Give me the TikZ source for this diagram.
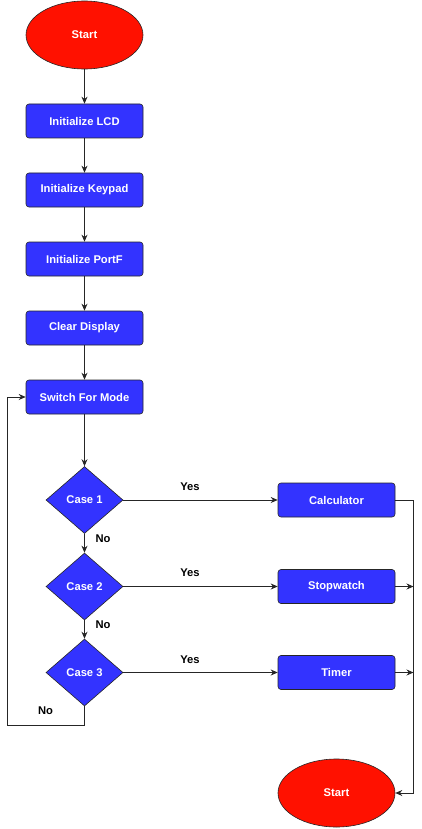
\documentclass[tikz,border=0pt]{standalone}
\usepackage{fontspec}
\setmainfont{Liberation Sans}
\usetikzlibrary{shapes.geometric,arrows.meta}
\definecolor{boxblue}{RGB}{51,51,255}
\definecolor{termred}{RGB}{255,17,0}
\begin{document}
\begin{tikzpicture}[x=1pt,y=-1pt,
  every node/.style={font=\fontsize{11.2}{13}\selectfont\bfseries},
  procbox/.style={draw=black!85,line width=0.6pt,fill=boxblue,text=white,rounded corners=3pt,minimum width=117pt,minimum height=34pt,inner sep=0pt},
  termnode/.style={draw=black!85,line width=0.6pt,fill=termred,text=white,ellipse,minimum width=117pt,minimum height=68pt,inner sep=0pt},
  decnode/.style={draw=black!85,line width=0.6pt,fill=boxblue,text=white,diamond,minimum width=77pt,minimum height=67pt,inner sep=0pt},
  conn/.style={draw=black!85,line width=0.8pt},
  arr/.style={conn,-{Stealth[length=7pt,width=6pt]}},
  lbl/.style={text=black}]
\useasboundingbox (0,0) rectangle (422,829);
\node[termnode] (start) at (84.5,35) {Start};
\node[procbox] (lcd) at (84.5,121) {Initialize LCD};
\node[procbox] (keypad) at (84.5,190) {Initialize Keypad};
\node[procbox] (portf) at (84.5,259) {Initialize PortF};
\node[procbox] (clear) at (84.5,328) {Clear Display};
\node[procbox] (switch) at (84.5,397) {Switch For Mode};
\node[decnode] (c1) at (84.5,500) {Case 1};
\node[decnode] (c2) at (84.5,586.5) {Case 2};
\node[decnode] (c3) at (84.5,672.5) {Case 3};
\node[procbox] (calc) at (336.5,500) {Calculator};
\node[procbox] (stop) at (336.5,586.5) {Stopwatch};
\node[procbox] (timer) at (336.5,672.5) {Timer};
\node[termnode] (stopend) at (336.5,793) {Start};
\coordinate (loopa) at (84.5,725);
\coordinate (loopb) at (7,725);
\coordinate (loopc) at (7,397);
\coordinate (r1) at (413.5,500);
\coordinate (r2) at (413.5,586.5);
\coordinate (r3) at (413.5,672.5);
\coordinate (r4) at (413.5,793);
\draw[arr] (start) -- (lcd);
\draw[arr] (lcd) -- (keypad);
\draw[arr] (keypad) -- (portf);
\draw[arr] (portf) -- (clear);
\draw[arr] (clear) -- (switch);
\draw[arr] (switch) -- (c1);
\draw[arr] (c1) -- (c2);
\draw[arr] (c2) -- (c3);
\draw[arr] (c1) -- (calc);
\draw[arr] (c2) -- (stop);
\draw[arr] (c3) -- (timer);
\draw[conn] (c3.south) -- (loopa) -- (loopb) -- (loopc);
\draw[arr] (loopc) -- (switch.west);
\draw[conn] (calc.east) -- (r1) -- (r4);
\draw[arr] (stop.east) -- (r2);
\draw[arr] (timer.east) -- (r3);
\draw[arr] (r4) -- (stopend.east);
\node[lbl] (y1) at (190,487) {Yes};
\node[lbl] (y2) at (190,573) {Yes};
\node[lbl] (y3) at (190,659.5) {Yes};
\node[lbl] (n1) at (103,539) {No};
\node[lbl] (n2) at (103,625) {No};
\node[lbl] (n3) at (45.5,711) {No};
\end{tikzpicture}
\end{document}
